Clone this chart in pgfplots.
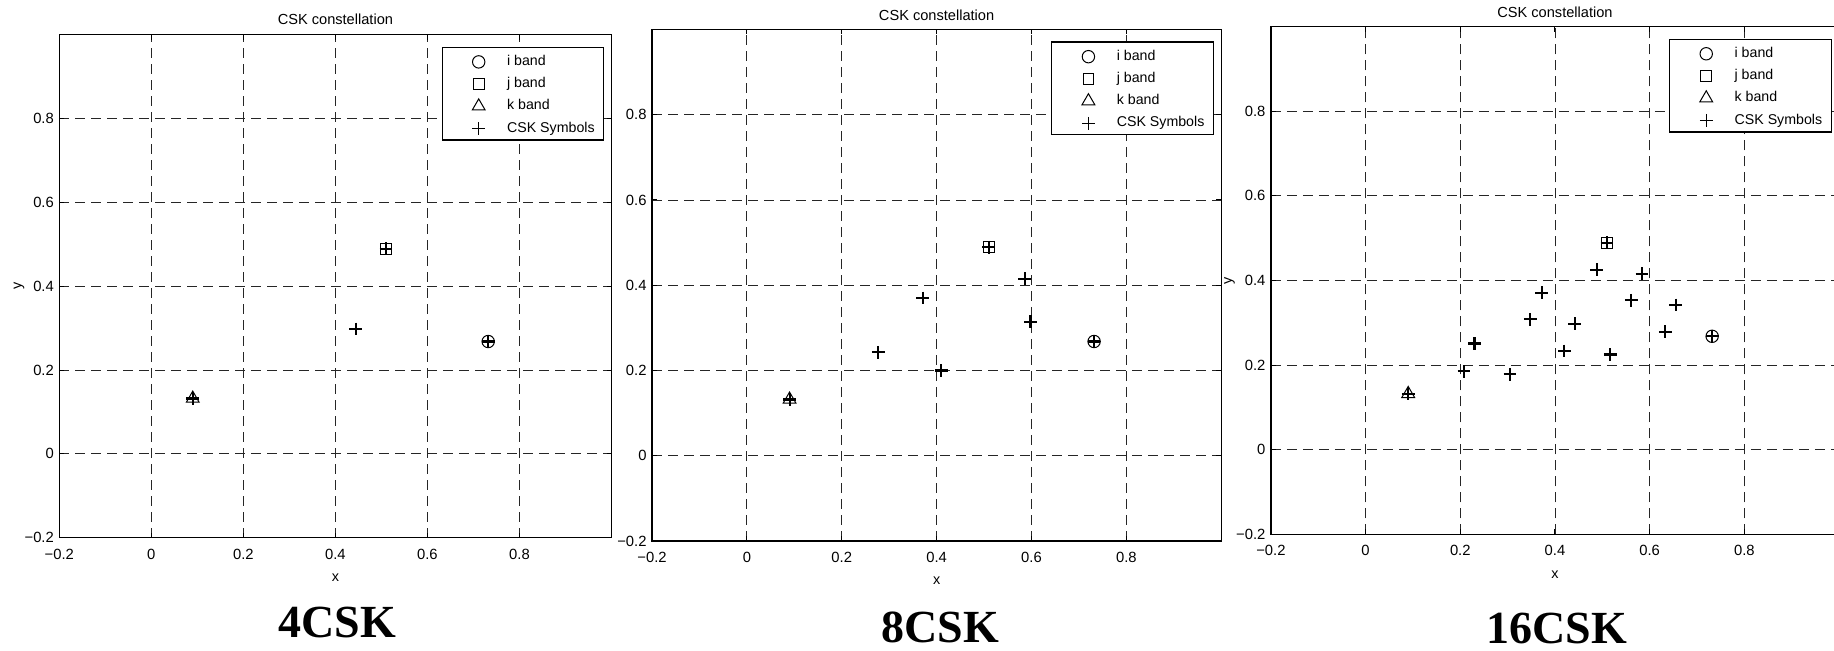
\documentclass[border=0pt]{standalone}
\usepackage{pgfplots}
\pgfplotsset{compat=1.18}
\usepackage{fontspec}
\setmainfont{Liberation Sans}
\newfontfamily\labelfont{Liberation Serif}
\pgfplotsset{
  cskaxis/.style={
    scale only axis,
    xmin=-0.2, xmax=1.0, ymin=-0.2, ymax=1.0,
    xtick={-0.2,0,0.2,0.4,0.6,0.8},
    ytick={-0.2,0,0.2,0.4,0.6,0.8},
    xticklabels={−0.2,0,0.2,0.4,0.6,0.8},
    yticklabels={−0.2,0,0.2,0.4,0.6,0.8},
    grid=major,
    major grid style={black!85, line width=0.45pt, dash pattern=on 5pt off 3pt},
    axis line style={black, line width=0.7pt},
    tick align=inside,
    tick pos=both,
    major tick length=2.5pt,
    tick style={black, line width=0.5pt},
    every tick label/.append style={font=\fontsize{7.4}{8}\selectfont},
    xticklabel style={yshift=-2pt},
    yticklabel style={xshift=0.8pt},
    xlabel={x},
    xlabel style={font=\fontsize{7.2}{8}\selectfont, at={(0.5,0)}, anchor=base, yshift=-22pt},
    ylabel style={font=\fontsize{7.2}{8}\selectfont, at={(-0.073,0.5)}, anchor=center},
    legend style={draw=black, line width=0.6pt, fill=white, at={(1,1)}, anchor=north east,
      xshift=-3.6pt, yshift=-6pt, inner xsep=4.5pt, inner ysep=1.0pt,
      row sep=0pt, column sep=0pt, font=\fontsize{7.1}{8}\selectfont,
      nodes={inner sep=0pt, anchor=west, draw=none}},
    legend cell align=left,
    legend image code/.code={%
      \path[draw=none,fill=none] (-13.8pt,-4.8pt) rectangle (14.2pt,6.3pt);
      \draw[mark repeat=2,mark phase=2,##1] plot coordinates {(-1pt,0pt) (0pt,0pt) (1pt,0pt)};},
    legend image post style={line width=0.5pt},
  },
  iband/.style={only marks, black, mark=o, mark size=3.1pt, line width=0.5pt},
  jband/.style={only marks, black, mark=square, mark size=2.7pt, line width=0.5pt},
  kband/.style={only marks, black, mark=triangle, mark size=3.7pt, line width=0.5pt},
  csksym/.style={only marks, black, mark=+, mark size=3.2pt, line width=1.05pt},
}
\begin{document}
\begin{tikzpicture}
\useasboundingbox (0pt,0pt) rectangle (917pt,325.5pt);
\clip (0pt,0pt) rectangle (917pt,325.5pt);

% ---------- 4CSK ----------
\begin{axis}[cskaxis, name=a1, at={(29.65pt,56.65pt)}, anchor=south west,
  width=276.1pt, height=251.5pt, ylabel={y}]
\addplot[iband] coordinates {(0.732,0.268)};
\addplot[jband] coordinates {(0.510,0.489)};
\addplot[kband] coordinates {(0.090,0.132)};
\addplot[csksym] coordinates {(0.732,0.268) (0.510,0.489) (0.090,0.132) (0.444,0.298)};
\legend{i band, j band, k band, CSK Symbols}
\end{axis}

% ---------- 8CSK ----------
\begin{axis}[cskaxis, name=a2, at={(326pt,55pt)}, anchor=south west,
  width=284.6pt, height=255.75pt]
\addplot[iband] coordinates {(0.732,0.268)};
\addplot[jband] coordinates {(0.510,0.489)};
\addplot[kband] coordinates {(0.090,0.132)};
\addplot[csksym] coordinates {(0.732,0.268) (0.510,0.489) (0.090,0.132)
  (0.277,0.243) (0.371,0.370) (0.410,0.200) (0.586,0.415) (0.598,0.314)};
\legend{i band, j band, k band, CSK Symbols}
\end{axis}

% ---------- 16CSK ----------
\begin{axis}[cskaxis, name=a3, at={(635.45pt,58.35pt)}, anchor=south west,
  width=284.05pt, height=253.85pt, ylabel={y}]
\addplot[iband] coordinates {(0.732,0.268)};
\addplot[jband] coordinates {(0.510,0.489)};
\addplot[kband] coordinates {(0.090,0.132)};
\addplot[csksym] coordinates {(0.732,0.268) (0.510,0.489) (0.090,0.132)
  (0.208,0.185) (0.230,0.251) (0.305,0.178) (0.348,0.308) (0.372,0.371)
  (0.420,0.233) (0.442,0.298) (0.488,0.425) (0.517,0.225) (0.561,0.353)
  (0.584,0.416) (0.633,0.279) (0.655,0.342)};
\legend{i band, j band, k band, CSK Symbols}
\end{axis}

\node[anchor=base, inner sep=0pt, font=\fontsize{7.3}{8}\selectfont] at ([yshift=5pt]a1.north) {CSK constellation};
\node[anchor=base, inner sep=0pt, font=\fontsize{7.3}{8}\selectfont] at ([yshift=4.6pt]a2.north) {CSK constellation};
\node[anchor=base, inner sep=0pt, font=\fontsize{7.3}{8}\selectfont] at ([yshift=4.6pt]a3.north) {CSK constellation};

\node[anchor=base, inner sep=0pt, font=\labelfont\bfseries\fontsize{23}{26}\selectfont] at (168.5pt,6.5pt) {4CSK};
\node[anchor=base, inner sep=0pt, font=\labelfont\bfseries\fontsize{23}{26}\selectfont] at (470.2pt,4pt) {8CSK};
\node[anchor=base, inner sep=0pt, font=\labelfont\bfseries\fontsize{23}{26}\selectfont] at (778.5pt,3.5pt) {16CSK};
\end{tikzpicture}
\end{document}
